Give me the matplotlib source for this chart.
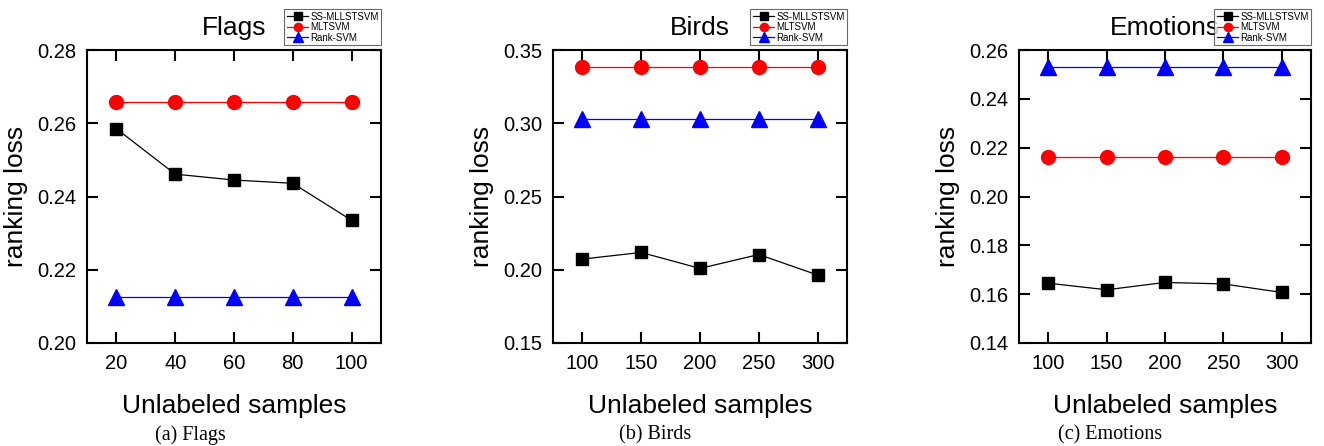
import matplotlib
matplotlib.use('Agg')
import matplotlib.pyplot as plt
import numpy as np

plt.rcParams['font.family'] = ['Liberation Sans', 'DejaVu Sans']

#%% Data

flags_x = [20, 40, 60, 80, 100]
flags_ss = [0.2585, 0.2461, 0.2445, 0.2436, 0.2335]
flags_ml = [0.2658, 0.2658, 0.2658, 0.2658, 0.2658]
flags_rank = [0.2126, 0.2126, 0.2126, 0.2126, 0.2126]

birds_x = [100, 150, 200, 250, 300]
birds_ss = [0.2073, 0.2118, 0.2009, 0.2104, 0.1964]
birds_ml = [0.3382, 0.3382, 0.3382, 0.3382, 0.3382]
birds_rank = [0.3027, 0.3027, 0.3027, 0.3027, 0.3027]

emo_x = [100, 150, 200, 250, 300]
emo_ss = [0.1645, 0.1618, 0.1648, 0.1642, 0.1607]
emo_ml = [0.2162, 0.2162, 0.2162, 0.2162, 0.2162]
emo_rank = [0.2529, 0.2529, 0.2529, 0.2529, 0.2529]

titles = ['Flags', 'Birds', 'Emotions']
captions = ['(a) Flags', '(b) Birds', '(c) Emotions']
names = ['SS-MLLSTSVM', 'MLTSVM', 'Rank-SVM']

#%% Figure

W, H = 1324, 446
fig = plt.figure(figsize=(W/100, H/100), dpi=100)

# axes boxes in pixels: left, right, top, bottom
boxes = [(87, 381, 50, 343), (553, 847, 50, 343), (1019, 1311, 50, 343)]
xlims = [(10, 110), (75, 325), (75, 325)]
ylims = [(0.20, 0.28), (0.15, 0.35), (0.14, 0.26)]
yticks = [np.arange(0.20, 0.281, 0.02), np.arange(0.15, 0.351, 0.05),
          np.arange(0.14, 0.261, 0.02)]
caption_x = [190, 655, 1110]

data = [(flags_x, flags_ss, flags_ml, flags_rank),
        (birds_x, birds_ss, birds_ml, birds_rank),
        (emo_x, emo_ss, emo_ml, emo_rank)]

for i, (x, ss, ml, rk) in enumerate(data):
    l, r, t, b = boxes[i]
    ax = fig.add_axes([l/W, (H-b)/H, (r-l)/W, (b-t)/H])

    ax.plot(x, ss, '-', color='black', lw=0.9, marker='s', ms=9,
            mfc='black', mec='black', label=names[0])
    ax.plot(x, ml, '-', color='red', lw=0.9, marker='o', ms=10,
            mfc='red', mec='red', label=names[1])
    ax.plot(x, rk, '-', color='blue', lw=0.9, marker='^', ms=11,
            mfc='blue', mec='blue', label=names[2])

    ax.set_xlim(*xlims[i])
    ax.set_ylim(*ylims[i])
    ax.set_xticks(x)
    ax.set_yticks(yticks[i])
    ax.set_yticklabels(['{:.2f}'.format(v) for v in yticks[i]])
    ax.tick_params(direction='in', length=8, width=1.5, top=True,
                   right=True, labelsize=14.5, pad=8)
    for s in ax.spines.values():
        s.set_linewidth(1.5)

    ax.set_xlabel('Unlabeled samples', fontsize=19, labelpad=15)
    ax.set_ylabel('ranking loss', fontsize=19, labelpad=6)
    ax.set_title(titles[i], fontsize=19, pad=11)

    leg = ax.legend(loc='lower right', bbox_to_anchor=(1.0, 1.017),
                    fontsize=7, frameon=True, fancybox=False,
                    handlelength=2.2, handletextpad=0.2, labelspacing=0.05,
                    borderpad=0.25, borderaxespad=0, markerscale=0.6)
    leg.get_frame().set_edgecolor('#444444')
    leg.get_frame().set_linewidth(0.8)

    fig.text(caption_x[i]/W, 1 - 435/H, captions[i], fontsize=14.5,
             family=['Liberation Serif', 'DejaVu Serif'],
             ha='center', va='center')

fig.savefig('out.png', dpi=100)
